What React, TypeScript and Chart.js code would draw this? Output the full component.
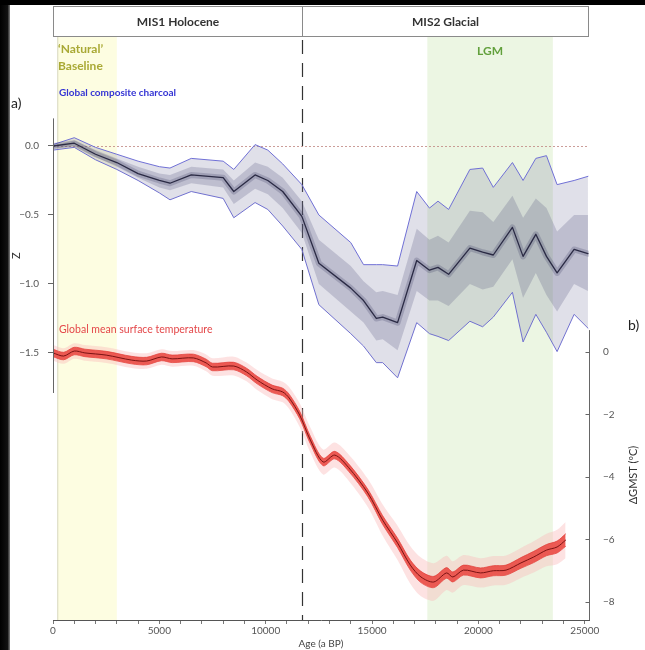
import React, { useEffect, useRef } from 'react';
import { Chart, registerables } from 'chart.js';

Chart.register(...registerables);

// Global composite charcoal (Z-scores): median, ensemble envelope and inner quartiles
const charcoalAge = [0, 1000, 2000, 3000, 4000, 5000, 5500, 6500, 8000, 8500, 9500, 10100, 10800, 11700, 12500, 14000, 14600, 15200, 15500, 16200, 17100, 17700, 18100, 18600, 19600, 20200, 20700, 21600, 22100, 22700, 23200, 23700, 24500, 25150];
const charcoalMedian = [0.0, 0.02, -0.06, -0.12, -0.2, -0.25, -0.27, -0.21, -0.23, -0.33, -0.21, -0.25, -0.33, -0.51, -0.85, -1.03, -1.12, -1.25, -1.24, -1.28, -0.83, -0.9, -0.88, -0.93, -0.74, -0.77, -0.79, -0.59, -0.8, -0.64, -0.8, -0.92, -0.75, -0.78];
const charcoalUpper = [0.01, 0.06, -0.01, -0.06, -0.11, -0.15, -0.16, -0.09, -0.11, -0.17, 0.01, -0.03, -0.13, -0.28, -0.5, -0.7, -0.86, -0.86, -0.86, -0.87, -0.33, -0.45, -0.4, -0.46, -0.17, -0.16, -0.3, -0.12, -0.25, -0.09, -0.07, -0.28, -0.25, -0.22];
const charcoalLower = [-0.03, -0.01, -0.1, -0.17, -0.25, -0.34, -0.39, -0.33, -0.38, -0.52, -0.41, -0.46, -0.58, -0.75, -1.15, -1.36, -1.45, -1.57, -1.57, -1.68, -1.28, -1.36, -1.38, -1.41, -1.27, -1.31, -1.24, -1.06, -1.42, -1.22, -1.35, -1.49, -1.22, -1.32];
const charcoalQ75 = [0.005, 0.04, -0.03, -0.09, -0.15, -0.2, -0.21, -0.15, -0.17, -0.25, -0.12, -0.15, -0.23, -0.4, -0.68, -0.87, -0.98, -1.06, -1.05, -1.08, -0.6, -0.68, -0.65, -0.7, -0.47, -0.48, -0.55, -0.36, -0.52, -0.38, -0.45, -0.62, -0.5, -0.5];
const charcoalQ25 = [-0.02, 0.0, -0.08, -0.15, -0.23, -0.3, -0.32, -0.27, -0.3, -0.42, -0.31, -0.35, -0.45, -0.63, -1.0, -1.2, -1.28, -1.41, -1.4, -1.48, -1.05, -1.12, -1.12, -1.16, -1.0, -1.04, -1.02, -0.82, -1.1, -0.92, -1.08, -1.2, -1.0, -1.05];

// Global mean surface temperature anomaly (°C) with two uncertainty half-widths
const tempAge = [0, 500, 1000, 1500, 2500, 3700, 4400, 5100, 5600, 6600, 7200, 7500, 8500, 9100, 9600, 10300, 10800, 11100, 11600, 12100, 12700, 13250, 13900, 14800, 15500, 16200, 16800, 17300, 17900, 18500, 18800, 19300, 20100, 20700, 21300, 22000, 22600, 23200, 23700, 24100];
const tempMean = [-0.03, -0.13, 0.03, -0.03, -0.1, -0.26, -0.29, -0.16, -0.22, -0.19, -0.35, -0.48, -0.45, -0.64, -0.9, -1.18, -1.28, -1.47, -2.02, -2.82, -3.52, -3.3, -3.7, -4.51, -5.38, -6.11, -6.82, -7.2, -7.36, -7.07, -7.2, -6.98, -7.07, -7.0, -6.98, -6.75, -6.56, -6.34, -6.24, -6.02];
const tempInner = [0.12, 0.12, 0.12, 0.12, 0.12, 0.12, 0.12, 0.12, 0.12, 0.12, 0.12, 0.12, 0.12, 0.12, 0.12, 0.12, 0.12, 0.12, 0.12, 0.12, 0.12, 0.12, 0.12, 0.12, 0.14, 0.15, 0.16, 0.18, 0.18, 0.17, 0.16, 0.16, 0.16, 0.16, 0.16, 0.17, 0.18, 0.18, 0.19, 0.2];
const tempOuter = [0.25, 0.25, 0.25, 0.25, 0.25, 0.25, 0.25, 0.25, 0.25, 0.25, 0.27, 0.28, 0.3, 0.3, 0.32, 0.33, 0.33, 0.35, 0.38, 0.4, 0.4, 0.4, 0.42, 0.45, 0.5, 0.55, 0.6, 0.62, 0.6, 0.55, 0.5, 0.48, 0.47, 0.47, 0.47, 0.48, 0.5, 0.52, 0.55, 0.58];

// Axis ticks
const ageMajorTicks = [0, 5000, 10000, 15000, 20000, 25000];
const ageMinorStep = 1000;
const zTicks = [0, -0.5, -1.0, -1.5];
const tTicks = [0, -2, -4, -6, -8];

// Periods
const misBoundary = 11700;
const baselineRange = [200, 3000];
const lgmRange = [17600, 23500];
const headerLabels = ['MIS1 Holocene', 'MIS2 Glacial'];

const FONT = 'Lato, "Open Sans", sans-serif';

const pts = (xs: number[], ys: number[]) => xs.map((x, i) => ({ x, y: ys[i] }));
const shift = (ys: number[], ws: number[], sign: number) => ys.map((y, i) => y + sign * ws[i]);
const minus = (s: string) => s.replace('-', '\u2212');

const decorPlugin = {
  id: 'decor',
  beforeDraw(chart: any) {
    const { ctx, chartArea: ca, scales } = chart;
    const x = scales.x;
    ctx.save();
    ctx.fillStyle = '#ffffff';
    ctx.fillRect(0, 0, chart.width, chart.height);

    const bx0 = x.getPixelForValue(baselineRange[0]);
    const bx1 = x.getPixelForValue(baselineRange[1]);
    ctx.fillStyle = '#fdfde1';
    ctx.fillRect(bx0, ca.top, bx1 - bx0, ca.bottom - ca.top);
    ctx.strokeStyle = 'rgba(190,190,170,0.6)';
    ctx.lineWidth = 1;
    ctx.beginPath();
    ctx.moveTo(bx0 + 0.5, ca.top);
    ctx.lineTo(bx0 + 0.5, ca.bottom);
    ctx.stroke();

    const gx0 = x.getPixelForValue(lgmRange[0]);
    const gx1 = x.getPixelForValue(lgmRange[1]);
    ctx.fillStyle = '#ecf6e3';
    ctx.fillRect(gx0, ca.top, gx1 - gx0, ca.bottom - ca.top);
    ctx.restore();
  },
  beforeDatasetsDraw(chart: any) {
    const { ctx, chartArea: ca, scales } = chart;
    ctx.save();
    // zero line of the charcoal index
    const y0 = Math.round(scales.z.getPixelForValue(0)) + 0.5;
    ctx.strokeStyle = 'rgba(195,140,135,0.85)';
    ctx.lineWidth = 1;
    ctx.setLineDash([2, 2]);
    ctx.beginPath();
    ctx.moveTo(ca.left, y0);
    ctx.lineTo(ca.right, y0);
    ctx.stroke();
    // Holocene / glacial boundary
    const bx = Math.round(scales.x.getPixelForValue(misBoundary)) + 0.5;
    ctx.strokeStyle = '#333333';
    ctx.lineWidth = 1.2;
    ctx.setLineDash([14, 9]);
    ctx.beginPath();
    ctx.moveTo(bx, ca.top + 4);
    ctx.lineTo(bx, ca.bottom);
    ctx.stroke();
    ctx.restore();
  },
  afterDraw(chart: any) {
    const { ctx, chartArea: ca, scales } = chart;
    const x = scales.x, z = scales.z, t = scales.t;
    ctx.save();

    // dark frame along the left and top edges
    const edge = ctx.createLinearGradient(0, 0, 10, 0);
    edge.addColorStop(0, '#000000');
    edge.addColorStop(0.75, '#111111');
    edge.addColorStop(1, 'rgba(40,40,40,0.6)');
    ctx.fillStyle = edge;
    ctx.fillRect(0, 0, 10, chart.height);
    ctx.fillStyle = '#000000';
    ctx.fillRect(0, 0, chart.width, 5);

    // header boxes
    const top = 6, bottom = ca.top;
    const bx = Math.round(x.getPixelForValue(misBoundary)) + 0.5;
    const left = ca.left + 0.5, right = ca.right - 0.5;
    ctx.fillStyle = '#ffffff';
    ctx.fillRect(left, top, right - left, bottom - top);
    ctx.strokeStyle = '#8a8a8a';
    ctx.lineWidth = 1;
    ctx.strokeRect(left, top + 0.5, right - left, bottom - top);
    ctx.beginPath();
    ctx.moveTo(bx, top);
    ctx.lineTo(bx, bottom);
    ctx.stroke();
    ctx.fillStyle = '#333333';
    ctx.font = `bold 12px ${FONT}`;
    ctx.textAlign = 'center';
    ctx.textBaseline = 'middle';
    ctx.fillText(headerLabels[0], (left + bx) / 2, (top + bottom) / 2 + 1);
    ctx.fillText(headerLabels[1], (bx + right) / 2, (top + bottom) / 2 + 1);

    // period labels
    ctx.textAlign = 'left';
    ctx.fillStyle = '#a9a935';
    ctx.font = `bold 12px ${FONT}`;
    ctx.fillText('\u2018Natural\u2019', ca.left + 5, 49);
    ctx.fillText('Baseline', ca.left + 5, 66);
    ctx.fillStyle = '#62a03c';
    ctx.textAlign = 'center';
    ctx.fillText('LGM', (x.getPixelForValue(lgmRange[0]) + x.getPixelForValue(lgmRange[1])) / 2, 51);

    // series labels
    ctx.textAlign = 'left';
    ctx.fillStyle = '#3434d4';
    ctx.font = `bold 10px ${FONT}`;
    ctx.fillText('Global composite charcoal', ca.left + 6, 93);
    ctx.fillStyle = '#e4484a';
    ctx.font = `10.5px ${FONT}`;
    ctx.fillText('Global mean surface temperature', ca.left + 6, 330);

    // panel letters
    ctx.fillStyle = '#222222';
    ctx.font = `14px ${FONT}`;
    ctx.fillText('a)', 11, 103);
    ctx.fillText('b)', 628, 325);

    // left axis line (charcoal)
    const zTop = z.getPixelForValue(0.2);
    const zBot = z.getPixelForValue(-1.79);
    ctx.strokeStyle = '#666666';
    ctx.lineWidth = 1;
    ctx.beginPath();
    ctx.moveTo(ca.left + 0.5, zTop);
    ctx.lineTo(ca.left + 0.5, zBot);
    ctx.stroke();

    // right axis line (temperature) with inward ticks
    const tTop = t.getPixelForValue(0.7);
    const rx = ca.right + 0.5;
    ctx.beginPath();
    ctx.moveTo(rx, tTop);
    ctx.lineTo(rx, ca.bottom);
    tTicks.forEach((v) => {
      const py = Math.round(t.getPixelForValue(v)) + 0.5;
      ctx.moveTo(rx - 4, py);
      ctx.lineTo(rx, py);
    });
    ctx.stroke();

    // axis titles
    ctx.fillStyle = '#333333';
    ctx.font = `11px ${FONT}`;
    ctx.textAlign = 'center';
    ctx.textBaseline = 'middle';
    ctx.save();
    ctx.translate(16, (zTop + zBot) / 2);
    ctx.rotate(-Math.PI / 2);
    ctx.fillText('Z', 0, 0);
    ctx.restore();
    ctx.save();
    ctx.translate(633, (tTop + ca.bottom) / 2);
    ctx.rotate(-Math.PI / 2);
    ctx.fillText('\u0394GMST (\u00baC)', 0, 0);
    ctx.restore();

    ctx.restore();
  },
};

export default function App() {
  const ref = useRef<HTMLCanvasElement>(null);

  useEffect(() => {
    const ageTicks: number[] = [];
    for (let v = ageMajorTicks[0]; v <= ageMajorTicks[ageMajorTicks.length - 1]; v += ageMinorStep) ageTicks.push(v);

    const line = (extra: any) => ({
      pointRadius: 0,
      tension: 0,
      fill: false,
      borderJoinStyle: 'round',
      borderCapStyle: 'round',
      ...extra,
    });

    const chart = new Chart(ref.current as HTMLCanvasElement, {
      type: 'line',
      data: {
        datasets: [
          // charcoal envelope
          line({ data: pts(charcoalAge, charcoalUpper), yAxisID: 'z', borderColor: '#7070d6', borderWidth: 1, fill: '+1', backgroundColor: 'rgba(125,125,165,0.24)', order: 7 }),
          line({ data: pts(charcoalAge, charcoalLower), yAxisID: 'z', borderColor: '#7070d6', borderWidth: 1, order: 7 }),
          // inner quartile band
          line({ data: pts(charcoalAge, charcoalQ75), yAxisID: 'z', borderColor: 'rgba(0,0,0,0)', borderWidth: 0, fill: '+1', backgroundColor: 'rgba(85,85,125,0.24)', order: 6 }),
          line({ data: pts(charcoalAge, charcoalQ25), yAxisID: 'z', borderColor: 'rgba(0,0,0,0)', borderWidth: 0, order: 6 }),
          // median with a soft core
          line({ data: pts(charcoalAge, charcoalMedian), yAxisID: 'z', borderColor: 'rgba(50,50,90,0.22)', borderWidth: 6, order: 5 }),
          line({ data: pts(charcoalAge, charcoalMedian), yAxisID: 'z', borderColor: '#2a2a44', borderWidth: 1.3, order: 4 }),
          // temperature bands
          line({ data: pts(tempAge, shift(tempMean, tempOuter, 1)), yAxisID: 't', borderWidth: 0, borderColor: 'rgba(0,0,0,0)', fill: '+1', backgroundColor: 'rgba(250,185,185,0.42)', tension: 0.3, order: 10 }),
          line({ data: pts(tempAge, shift(tempMean, tempOuter, -1)), yAxisID: 't', borderWidth: 0, borderColor: 'rgba(0,0,0,0)', tension: 0.3, order: 10 }),
          line({ data: pts(tempAge, shift(tempMean, tempInner, 1)), yAxisID: 't', borderWidth: 0.8, borderColor: 'rgba(225,60,55,0.9)', fill: '+1', backgroundColor: 'rgba(234,74,68,0.9)', tension: 0.3, order: 9 }),
          line({ data: pts(tempAge, shift(tempMean, tempInner, -1)), yAxisID: 't', borderWidth: 0.8, borderColor: 'rgba(225,60,55,0.9)', tension: 0.3, order: 9 }),
          line({ data: pts(tempAge, tempMean), yAxisID: 't', borderColor: '#7a1212', borderWidth: 1, tension: 0.3, order: 8 }),
        ],
      },
      options: {
        animation: false,
        responsive: false,
        events: [],
        layout: { padding: { top: 36, left: 0, right: 0, bottom: 0 } },
        plugins: { legend: { display: false }, tooltip: { enabled: false } },
        scales: {
          x: {
            type: 'linear',
            position: 'bottom',
            min: 0,
            max: 25200,
            afterBuildTicks: (s: any) => { s.ticks = ageTicks.map((v) => ({ value: v })); },
            afterFit: (s: any) => { s.height = 30; },
            ticks: {
              autoSkip: false,
              maxRotation: 0,
              padding: 1,
              color: '#555555',
              font: { family: FONT, size: 10 },
              callback: (v: any) => (ageMajorTicks.includes(Number(v)) ? String(v) : ''),
            },
            grid: { drawOnChartArea: false, tickLength: 4, color: '#777777' },
            border: { color: '#555555' },
            title: { display: true, text: 'Age (a BP)', color: '#444444', font: { family: FONT, size: 10 }, padding: { top: 0, bottom: 0 } },
          },
          z: {
            type: 'linear',
            position: 'left',
            min: -3.435,
            max: 0.797,
            afterBuildTicks: (s: any) => { s.ticks = zTicks.map((v) => ({ value: v })); },
            afterFit: (s: any) => { s.width = 53; },
            ticks: {
              padding: 9,
              color: '#555555',
              font: { family: FONT, size: 10 },
              callback: (v: any) => minus(Number(v).toFixed(1)),
            },
            grid: { drawOnChartArea: false, tickLength: 5, color: '#666666' },
            border: { display: false },
          },
          t: {
            type: 'linear',
            position: 'right',
            min: -8.576,
            max: 10.11,
            afterBuildTicks: (s: any) => { s.ticks = tTicks.map((v) => ({ value: v })); },
            afterFit: (s: any) => { s.width = 56; },
            ticks: {
              padding: 14,
              color: '#555555',
              font: { family: FONT, size: 10 },
              callback: (v: any) => minus(String(v)),
            },
            grid: { display: false, drawTicks: false },
            border: { display: false },
          },
        },
      },
      plugins: [decorPlugin],
    } as any);

    return () => chart.destroy();
  }, []);

  return (
    <div style={{ position: 'fixed', left: 0, top: 0, width: 645, height: 650, background: '#000000' }}>
      <canvas ref={ref} width={645} height={650} style={{ display: 'block', width: 645, height: 650 }} />
    </div>
  );
}
